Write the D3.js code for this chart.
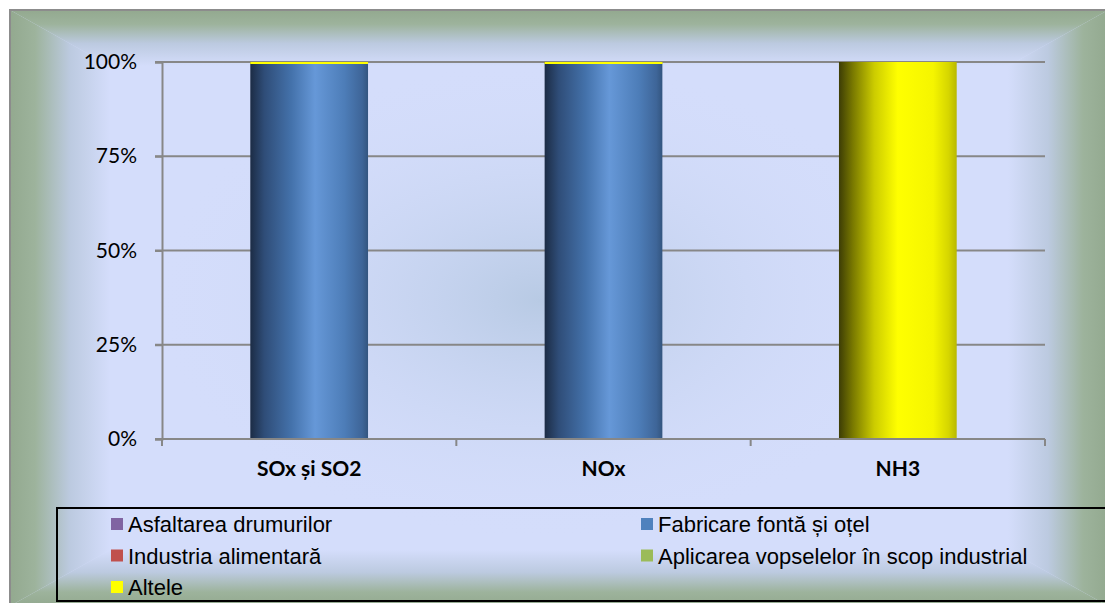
<!DOCTYPE html>
<html><head><meta charset="utf-8">
<script src="https://cdn.jsdelivr.net/npm/d3@7"></script>
<style>html,body{margin:0;padding:0;background:#fff;}svg{display:block;}</style>
</head><body>
<svg id="chart" width="1105" height="603"></svg>
<script>
// ---- data ----
const categories = ["SOx și SO2", "NOx", "NH3"];
const seriesNames = ["Asfaltarea drumurilor", "Fabricare fontă și oțel", "Industria alimentară", "Aplicarea vopselelor în scop industrial", "Altele"];
const seriesColors = ["#8064a2", "#4f81bd", "#c0504d", "#9bbb59", "#ffff00"];
const asfaltarea = [0, 0, 0];
const fabricare = [99.5, 99.5, 0];
const industria = [0, 0, 0];
const aplicarea = [0, 0, 0];
const altele = [0.5, 0.5, 100];
const yTicks = [0, 0.25, 0.5, 0.75, 1];

const seriesValues = [asfaltarea, fabricare, industria, aplicarea, altele];
const rows = categories.map((c, i) => {
  const r = {cat: c};
  seriesNames.forEach((s, j) => r[s] = seriesValues[j][i]);
  return r;
});

const svg = d3.select("#chart");
const defs = svg.append("defs");

// ---- background (rectangular path gradient) ----
const bx0 = 10, by0 = 10, bx1 = 1108, by1 = 606;
const edge = "#93a98f", mid = "#d4ddfb";
const gw = 100, gh = 56;
function linGrad(id, x1, y1, x2, y2) {
  const g = defs.append("linearGradient").attr("id", id)
    .attr("gradientUnits", "userSpaceOnUse")
    .attr("x1", x1).attr("y1", y1).attr("x2", x2).attr("y2", y2);
  g.append("stop").attr("offset", 0).attr("stop-color", edge);
  g.append("stop").attr("offset", 0.25).attr("stop-color", "#9db39c");
  g.append("stop").attr("offset", 0.6).attr("stop-color", "#bccae0");
  g.append("stop").attr("offset", 1).attr("stop-color", mid);
}
linGrad("gL", bx0, 0, bx0 + gw, 0);
linGrad("gR", bx1, 0, bx1 - gw, 0);
linGrad("gT", 0, by0, 0, by0 + gh);
linGrad("gB", 0, by1, 0, by1 - gh);
svg.append("rect").attr("x", bx0).attr("y", by0).attr("width", bx1 - bx0).attr("height", by1 - by0).attr("fill", mid);
const rg = defs.append("radialGradient").attr("id", "gC")
  .attr("gradientUnits", "userSpaceOnUse").attr("cx", 540).attr("cy", 300).attr("r", 300)
  .attr("gradientTransform", "translate(540,300) scale(1.3,0.8) translate(-540,-300)");
rg.append("stop").attr("offset", 0).attr("stop-color", "#b8cae4").attr("stop-opacity", 1);
rg.append("stop").attr("offset", 1).attr("stop-color", mid).attr("stop-opacity", 0);
svg.append("rect").attr("x", bx0).attr("y", by0).attr("width", bx1 - bx0).attr("height", by1 - by0).attr("fill", "url(#gC)");
const ix0 = bx0 + gw, ix1 = bx1 - gw, iy0 = by0 + gh, iy1 = by1 - gh;
svg.append("polygon").attr("points", [[bx0,by0],[ix0,iy0],[ix0,iy1],[bx0,by1]].join(" ")).attr("fill", "url(#gL)");
svg.append("polygon").attr("points", [[bx1,by0],[ix1,iy0],[ix1,iy1],[bx1,by1]].join(" ")).attr("fill", "url(#gR)");
svg.append("polygon").attr("points", [[bx0,by0],[bx1,by0],[ix1,iy0],[ix0,iy0]].join(" ")).attr("fill", "url(#gT)");
svg.append("polygon").attr("points", [[bx0,by1],[bx1,by1],[ix1,iy1],[ix0,iy1]].join(" ")).attr("fill", "url(#gB)");
svg.append("rect").attr("x", bx0).attr("y", by0).attr("width", bx1 - bx0).attr("height", by1 - by0)
  .attr("fill", "none").attr("stroke", "#8c8c8c").attr("stroke-width", 2);

// ---- scales ----
const plot = {left: 162, right: 1045, top: 62, bottom: 439};
const x = d3.scaleBand().domain(categories).range([plot.left, plot.right]).paddingInner(0.6).paddingOuter(0.3);
const y = d3.scaleLinear().domain([0, 1]).range([plot.bottom, plot.top]);

// gridlines
const axisColor = "#878787";
svg.append("g").selectAll("line").data(yTicks.filter(d => d > 0)).join("line")
  .attr("x1", plot.left - 7).attr("x2", plot.right)
  .attr("y1", d => y(d)).attr("y2", d => y(d))
  .attr("stroke", axisColor).attr("stroke-width", 2);

// y axis
const yAxis = svg.append("g").attr("transform", `translate(${plot.left},0)`)
  .call(d3.axisLeft(y).tickValues(yTicks).tickFormat(d3.format(".0%")).tickSize(7).tickPadding(18));
yAxis.select(".domain").attr("stroke", axisColor).attr("stroke-width", 2);
yAxis.selectAll(".tick line").attr("stroke", axisColor).attr("stroke-width", 2);
yAxis.selectAll(".tick text").attr("font-family", "Lato, 'Open Sans', sans-serif").attr("font-size", 21).attr("fill", "#000");

// ---- bars ----
function barGrad(id, stops) {
  const g = defs.append("linearGradient").attr("id", id).attr("x1", 0).attr("y1", 0).attr("x2", 1).attr("y2", 0);
  stops.forEach(s => g.append("stop").attr("offset", s[0]).attr("stop-color", s[1]));
}
barGrad("bar1", [[0, "#1c2c45"], [0.12, "#2f4d78"], [0.35, "#4472ab"], [0.55, "#6698d8"], [0.8, "#4d7db8"], [0.95, "#3e6598"], [1, "#33557f"]]);
barGrad("bar4", [[0, "#3d3d05"], [0.12, "#7a7a00"], [0.3, "#cccc00"], [0.5, "#ffff00"], [0.8, "#f5f500"], [0.93, "#d6d600"], [1, "#b8b800"]]);
barGrad("bar0", [[0, "#3a2d4a"], [0.55, "#8c6fb2"], [1, "#6b5488"]]);
barGrad("bar2", [[0, "#4d2020"], [0.55, "#d05a56"], [1, "#9a403e"]]);
barGrad("bar3", [[0, "#3f4c24"], [0.55, "#a8c963"], [1, "#7c9647"]]);

const stack = d3.stack().keys(seriesNames).offset(d3.stackOffsetExpand);
const stacked = stack(rows);
svg.append("g").selectAll("g").data(stacked).join("g")
  .attr("fill", (d, i) => `url(#bar${i})`)
  .selectAll("rect").data(d => d.filter(p => p[1] - p[0] > 0)).join("rect")
  .attr("x", d => x(d.data.cat))
  .attr("width", x.bandwidth())
  .attr("y", d => y(d[1]))
  .attr("height", d => y(d[0]) - y(d[1]));
// thin top yellow slivers drawn solid
svg.append("g").selectAll("rect").data(stacked[4].filter(p => p[1] - p[0] > 0 && p[1] - p[0] < 0.05)).join("rect")
  .attr("x", d => x(d.data.cat)).attr("width", x.bandwidth())
  .attr("y", d => y(d[1])).attr("height", d => Math.max(2, y(d[0]) - y(d[1])))
  .attr("fill", "#ffff00");

// x axis
const xAxis = svg.append("g").attr("transform", `translate(0,${plot.bottom})`)
  .call(d3.axisBottom(x).tickSize(0).tickPadding(22));
xAxis.select(".domain").remove();
svg.append("line").attr("x1", plot.left - 7).attr("x2", plot.right).attr("y1", plot.bottom).attr("y2", plot.bottom)
  .attr("stroke", axisColor).attr("stroke-width", 2);
const bounds = [plot.left].concat(categories.map(c => x(c) + x.bandwidth() + x.step() * 0.3));
svg.append("g").selectAll("line").data(bounds).join("line")
  .attr("x1", d => d).attr("x2", d => d).attr("y1", plot.bottom).attr("y2", plot.bottom + 7)
  .attr("stroke", axisColor).attr("stroke-width", 2);
xAxis.selectAll(".tick text").attr("font-family", "Lato, 'Open Sans', sans-serif").attr("font-size", 21)
  .attr("font-weight", "bold").attr("fill", "#000").attr("dy", "0.71em");

// ---- legend ----
svg.append("rect").attr("x", 57).attr("y", 508).attr("width", 1060).attr("height", 93)
  .attr("fill", "none").attr("stroke", "#000").attr("stroke-width", 2);
const legCols = [111, 641];
const legRows = [524, 555.5, 587];
const leg = svg.append("g").selectAll("g").data(seriesNames).join("g")
  .attr("transform", (d, i) => `translate(${legCols[i % 2]},${legRows[Math.floor(i / 2)]})`);
leg.append("rect").attr("x", 0).attr("y", -6).attr("width", 12).attr("height", 12)
  .attr("fill", (d, i) => seriesColors[i]);
leg.append("text").attr("x", 17).attr("y", 8)
  .attr("font-family", "'Liberation Sans', Arial, sans-serif").attr("font-size", 22).attr("fill", "#000")
  .text(d => d);
</script>
</body></html>
